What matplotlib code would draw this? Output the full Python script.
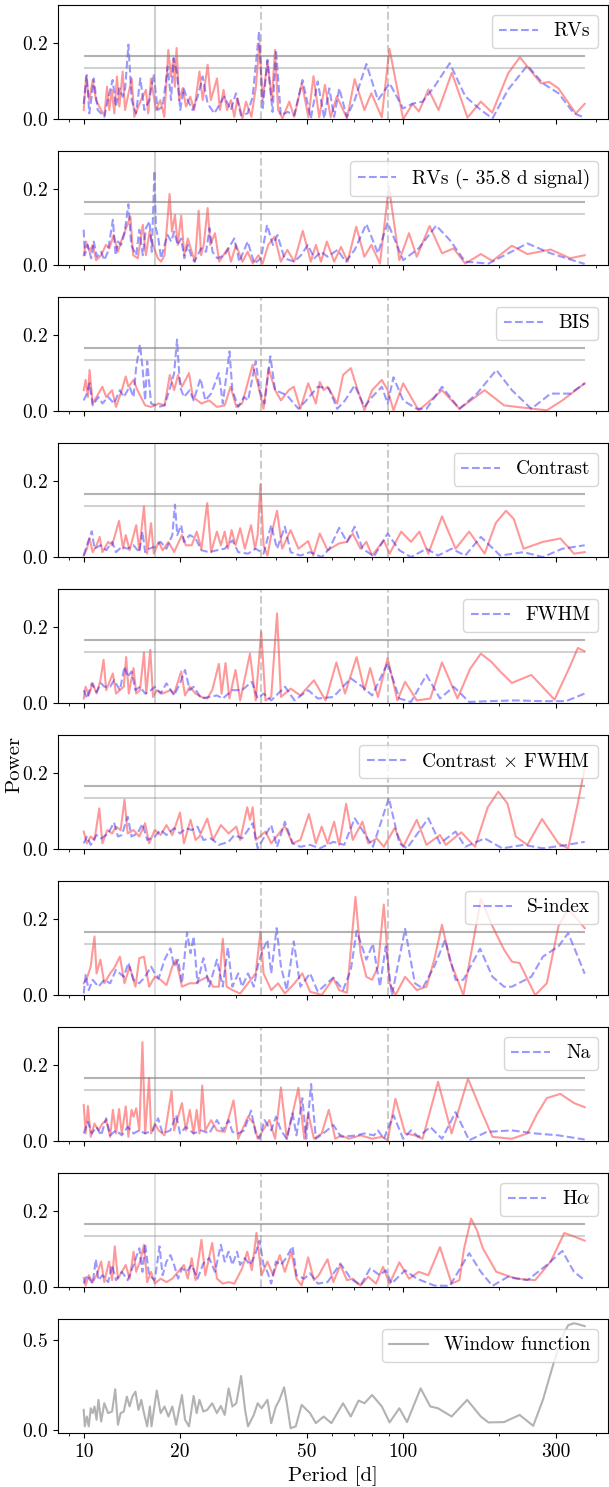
import matplotlib
matplotlib.use('Agg')
import matplotlib.pyplot as plt
from matplotlib.ticker import NullFormatter

plt.rcParams['font.family'] = 'serif'
plt.rcParams['font.serif'] = ['cmr10']
plt.rcParams['mathtext.fontset'] = 'cm'
plt.rcParams['axes.formatter.use_mathtext'] = True
plt.rcParams['font.size'] = 14

# ---------------- data (period [d], power) ----------------
rv_red = [(10.0,0.024),(10.17,0.112),(10.41,0.05),(10.67,0.103),(10.93,0.05),(11.33,0.024),(11.61,0.01),(11.83,0.085),(12.03,0.024),(12.24,0.077),(12.47,0.015),(12.71,0.112),(12.93,0.033),(13.24,0.125),(13.47,0.024),(14.13,0.107),(14.40,0.006),(15.11,0.05),(15.66,0.077),(15.92,0.015),(16.24,0.107),(16.83,0.024),(17.37,0.05),(17.88,0.006),(18.40,0.182),(18.76,0.112),(19.11,0.16),(19.29,0.085),(19.53,0.187),(19.90,0.05),(20.40,0.081),(20.90,0.033),(21.55,0.059),(22.18,0.024),(23.03,0.125),(23.58,0.05),(24.44,0.143),(25.0,0.05),(26.14,0.107),(26.7,0.024),(27.4,0.077),(28.1,0.024),(28.9,0.05),(29.6,0.006),(30.3,0.055),(31.4,0.002),(32.2,0.046),(33.5,0.006),(34.6,0.085),(35.5,0.20),(36.3,0.05),(37.6,0.152),(38.8,0.05),(39.7,0.182),(40.6,0.024),(41.9,0.002),(44.0,0.046),(45.6,0.006),(48.2,0.094),(50.5,0.005),(52.4,0.113),(54.6,0.005),(56.9,0.09),(59.3,0.005),(62.0,0.06),(66.7,0.002),(70.5,0.105),(75.6,0.024),(79.5,0.068),(85.7,0.005),(90.6,0.185),(100,0.0),(107,0.04),(112,0.02),(120,0.078),(129,0.024),(142,0.122),(159,0.004),(175,0.046),(190,0.017),(213,0.12),(232,0.163),(252,0.125),(270,0.094),(286,0.098),(306,0.081),(347,0.015),(370,0.04)]
rv_blue = [(10.0,0.04),(10.22,0.116),(10.41,0.015),(10.59,0.059),(10.75,0.107),(11.06,0.024),(11.61,0.006),(11.89,0.05),(12.32,0.103),(12.62,0.033),(12.93,0.081),(13.24,0.059),(13.47,0.077),(13.80,0.196),(14.13,0.05),(14.58,0.015),(15.04,0.107),(15.48,0.024),(16.05,0.05),(16.56,0.119),(17.04,0.024),(17.67,0.033),(18.32,0.138),(18.76,0.05),(19.12,0.16),(19.59,0.12),(20.06,0.024),(20.55,0.081),(21.15,0.05),(21.93,0.024),(22.73,0.059),(23.57,0.112),(24.43,0.041),(25.63,0.015),(27.54,0.059),(28.90,0.024),(29.96,0.068),(31.06,0.01),(32.58,0.015),(33.79,0.059),(35.4,0.231),(36.3,0.024),(37.6,0.156),(39.0,0.019),(40.0,0.182),(41.4,0.01),(43.5,0.019),(45.6,0.01),(48.4,0.103),(51.4,0.002),(54.0,0.099),(56.6,0.002),(58.7,0.081),(60.8,0.006),(63.1,0.081),(66.6,0.006),(70.5,0.05),(76.7,0.145),(83.4,0.05),(90.7,0.094),(100,0.028),(107.2,0.041),(115,0.046),(125.1,0.085),(139.9,0.147),(156.4,0.06),(175,0.024),(190.4,0.002),(212.8,0.077),(244.8,0.141),(273.8,0.094),(306.3,0.068),(342.4,0.015),(370,0.004)]

rvres_red = [(10.0,0.026),(10.17,0.062),(10.43,0.035),(10.67,0.053),(10.94,0.013),(11.34,0.026),(11.73,0.053),(12.03,0.044),(12.41,0.079),(12.80,0.035),(13.09,0.062),(13.57,0.097),(14.0,0.128),(14.28,0.026),(14.77,0.018),(15.31,0.106),(15.66,0.026),(16.07,0.088),(16.47,0.053),(17.07,0.018),(17.46,0.009),(17.91,0.026),(18.57,0.187),(18.89,0.088),(19.3,0.132),(19.69,0.053),(20.19,0.13),(20.65,0.026),(21.18,0.07),(21.78,0.035),(22.3,0.009),(22.9,0.143),(23.3,0.026),(23.75,0.053),(24.43,0.15),(24.9,0.053),(25.76,0.084),(26.56,0.009),(28.26,0.044),(28.9,0.009),(29.96,0.053),(31.4,0.009),(32.6,0.035),(33.8,0.004),(35.24,0.026),(36.3,0.004),(37.8,0.053),(39.6,0.075),(41.4,0.009),(43.4,0.04),(45.6,0.009),(48.5,0.09),(51.4,0.009),(53.3,0.053),(55.3,0.009),(57.7,0.062),(60.8,0.009),(63.9,0.048),(67.0,0.009),(71.3,0.101),(75.6,0.022),(79.5,0.053),(84.6,0.004),(90.2,0.207),(97.3,0.013),(104.3,0.084),(110.3,0.022),(121,0.103),(132.3,0.031),(143.9,0.044),(156.4,0.004),(175,0.029),(190.3,0.011),(218.9,0.051),(244.8,0.029),(289.5,0.041),(333,0.018),(370,0.026)]
rvres_blue = [(10.0,0.093),(10.08,0.026),(10.29,0.053),(10.55,0.018),(10.75,0.062),(11.0,0.022),(11.34,0.035),(11.6,0.013),(11.9,0.035),(12.34,0.119),(12.58,0.026),(12.80,0.062),(13.09,0.053),(13.42,0.084),(13.8,0.16),(14.08,0.053),(14.6,0.026),(14.93,0.093),(15.31,0.026),(15.66,0.097),(16.07,0.115),(16.34,0.035),(16.65,0.248),(16.83,0.097),(17.12,0.07),(17.46,0.018),(17.91,0.053),(18.31,0.079),(18.78,0.062),(19.19,0.088),(19.69,0.053),(20.19,0.07),(20.65,0.018),(21.18,0.053),(21.66,0.026),(22.2,0.009),(23.3,0.044),(24.15,0.035),(24.78,0.097),(25.3,0.035),(26.2,0.018),(27.6,0.026),(29.6,0.07),(30.7,0.009),(32.6,0.062),(34.2,0.004),(35.9,0.018),(37.5,0.106),(39.1,0.053),(40.4,0.079),(42.5,0.018),(45.6,0.009),(47.9,0.026),(50.3,0.053),(52.7,0.018),(55.3,0.035),(58.0,0.022),(62.3,0.04),(66.1,0.009),(70.5,0.04),(76.7,0.108),(83.4,0.031),(89.4,0.112),(100,0.013),(111.8,0.044),(126.9,0.104),(139.9,0.066),(156.4,0.009),(185,0.004),(244.8,0.057),(289.5,0.031),(370,0.003)]

bis_red = [(10.0,0.055),(10.14,0.082),(10.31,0.037),(10.43,0.108),(10.67,0.02),(11.12,0.046),(11.44,0.064),(11.76,0.037),(12.27,0.055),(12.62,0.011),(13.16,0.055),(13.54,0.091),(13.8,0.064),(14.32,0.082),(14.73,0.055),(15.57,0.015),(16.25,0.011),(17.17,0.02),(17.91,0.015),(18.6,0.095),(19.19,0.055),(19.74,0.095),(20.3,0.064),(21.36,0.1),(21.96,0.037),(23.36,0.02),(24.71,0.028),(26.12,0.011),(27.63,0.015),(28.82,0.064),(30.04,0.011),(31.33,0.02),(33.8,0.122),(35.04,0.073),(36.55,0.006),(37.9,0.113),(39.73,0.055),(41.44,0.028),(43.83,0.055),(45.45,0.064),(47.66,0.006),(50.42,0.073),(53.3,0.02),(54.82,0.077),(56.38,0.055),(57.98,0.064),(62.17,0.02),(64.84,0.095),(68.56,0.113),(71.5,0.064),(75.63,0.002),(79.95,0.055),(85.75,0.082),(89.42,0.055),(93.26,0.002),(100,0.073),(111.8,0.002),(121.6,0.028),(132.3,0.055),(150,0.006),(179.9,0.055),(207,0.015),(238.1,0.009),(281.6,0.002),(314.9,0.028),(370,0.073)]
bis_blue = [(10.0,0.028),(10.23,0.046),(10.43,0.073),(10.67,0.015),(11.12,0.037),(11.44,0.02),(11.93,0.037),(12.44,0.02),(12.98,0.055),(13.35,0.037),(13.92,0.064),(14.32,0.037),(14.6,0.117),(15.0,0.175),(15.27,0.117),(15.57,0.028),(15.8,0.131),(16.25,0.02),(17.17,0.011),(17.91,0.015),(18.68,0.064),(19.19,0.1),(19.6,0.188),(20.02,0.064),(20.59,0.037),(21.48,0.055),(22.08,0.028),(23.2,0.086),(24.02,0.028),(25.05,0.046),(26.49,0.1),(27.25,0.02),(28.6,0.157),(29.2,0.055),(30.46,0.011),(31.77,0.037),(32.68,0.028),(34.55,0.131),(35.54,0.055),(36.8,0.02),(38.4,0.144),(39.73,0.055),(43.22,0.042),(47.0,0.006),(49.71,0.028),(54.05,0.064),(58.5,0.06),(62.17,0.006),(65.76,0.028),(70.51,0.068),(75.63,0.011),(79.95,0.037),(85.75,0.064),(89.42,0.02),(93.26,0.089),(100,0.028),(110.3,0.006),(118.3,0.006),(132.3,0.064),(150,0.006),(170.2,0.046),(195.7,0.108),(218.9,0.055),(251.8,0.006),(289.5,0.046),(333,0.046),(370,0.073)]

con_red = [(10.0,0.004),(10.23,0.022),(10.43,0.049),(10.67,0.013),(10.97,0.031),(11.22,0.053),(11.44,0.013),(11.93,0.04),(12.27,0.031),(12.9,0.095),(13.28,0.022),(13.54,0.058),(13.92,0.018),(14.6,0.084),(14.93,0.018),(15.44,0.133),(15.8,0.009),(16.25,0.089),(16.57,0.009),(17.17,0.04),(17.66,0.018),(18.42,0.04),(19.19,0.013),(20.3,0.058),(20.88,0.031),(21.78,0.031),(22.58,0.067),(23.36,0.022),(24.36,0.142),(25.05,0.013),(26.12,0.067),(26.87,0.031),(27.63,0.067),(28.26,0.022),(29.04,0.071),(29.87,0.031),(30.89,0.076),(31.95,0.022),(33.4,0.084),(34.36,0.022),(35.04,0.058),(35.74,0.191),(36.55,0.031),(37.59,0.004),(38.63,0.058),(40.29,0.122),(41.8,0.022),(44.43,0.071),(47.0,0.022),(50.42,0.042),(52.3,0.004),(54.82,0.062),(57.98,0.018),(63.05,0.036),(66.68,0.04),(69.53,0.062),(73.54,0.022),(76.7,0.04),(79.95,0.004),(86.96,0.044),(90.68,0.009),(98.6,0.067),(105.8,0.04),(112.4,0.067),(119.9,0.009),(132.3,0.107),(145.9,0.022),(160.9,0.067),(179.9,0.009),(195,0.09),(209.9,0.122),(222,0.1),(238.1,0.022),(273.8,0.04),(310.5,0.049),(342.4,0.009),(370,0.013)]
con_blue = [(10.0,0.004),(10.23,0.031),(10.6,0.068),(10.81,0.022),(11.28,0.031),(11.76,0.018),(12.27,0.04),(12.62,0.013),(13.16,0.027),(13.73,0.022),(14.32,0.031),(14.93,0.013),(15.27,0.067),(15.57,0.013),(16.02,0.022),(16.69,0.027),(17.41,0.04),(18.16,0.022),(18.94,0.058),(19.3,0.138),(19.63,0.058),(20.19,0.084),(20.59,0.04),(21.48,0.058),(22.39,0.049),(23.36,0.018),(24.71,0.013),(26.12,0.018),(27.63,0.022),(29.2,0.044),(30.46,0.013),(32.68,0.009),(34.55,0.022),(36.55,0.009),(38.63,0.084),(40.29,0.022),(42.62,0.08),(44.43,0.013),(47.66,0.004),(51.1,0.013),(55.59,0.0),(58.77,0.022),(63.05,0.077),(66.68,0.04),(70.51,0.08),(74.58,0.022),(81.08,0.002),(89.42,0.062),(97.27,0.018),(105.8,0.0),(118.3,0.022),(128.6,0.004),(141.8,0.022),(156.4,0.004),(175,0.053),(201.3,0.004),(238.1,0.013),(273.8,0.0),(314.9,0.022),(370,0.031)]

fwhm_red = [(10.0,0.012),(10.14,0.043),(10.37,0.02),(10.67,0.052),(10.97,0.025),(11.28,0.06),(11.54,0.114),(11.76,0.034),(12.1,0.06),(12.34,0.078),(12.62,0.025),(12.98,0.034),(13.35,0.043),(13.58,0.121),(13.84,0.025),(14.32,0.092),(14.6,0.025),(15.0,0.034),(15.44,0.133),(15.7,0.025),(16.16,0.14),(16.48,0.016),(16.93,0.034),(17.66,0.025),(18.68,0.034),(19.19,0.025),(20.19,0.083),(20.76,0.02),(21.48,0.043),(22.39,0.025),(23.36,0.016),(24.36,0.012),(25.25,0.034),(26.49,0.103),(27.02,0.025),(27.79,0.105),(28.58,0.012),(29.87,0.087),(30.89,0.007),(33.14,0.13),(34.55,0.007),(35.94,0.187),(37.07,0.007),(38.63,0.016),(40.29,0.236),(41.44,0.016),(44.43,0.038),(47.66,0.02),(52.56,0.06),(57.17,0.007),(61.8,0.107),(65.76,0.025),(71.5,0.121),(75.63,0.034),(78.83,0.092),(83.38,0.016),(89.42,0.118),(95.9,0.007),(101.4,0.056),(110.3,0.007),(121.6,0.012),(132.3,0.107),(147.9,0.012),(162,0.09),(175,0.13),(188,0.11),(201.3,0.083),(218.9,0.053),(251.8,0.074),(297.7,0.009),(330,0.09),(352.2,0.145),(370,0.136)]
fwhm_blue = [(10.0,0.034),(10.23,0.012),(10.6,0.052),(10.97,0.029),(11.34,0.052),(11.6,0.043),(12.1,0.043),(12.44,0.06),(12.98,0.034),(13.42,0.096),(13.73,0.069),(14.12,0.083),(14.52,0.034),(15.0,0.043),(15.57,0.025),(16.25,0.034),(16.69,0.043),(17.41,0.025),(18.16,0.052),(19.19,0.02),(20.02,0.052),(20.76,0.087),(21.48,0.034),(22.08,0.043),(23.36,0.012),(24.71,0.016),(26.12,0.02),(27.25,0.012),(29.2,0.034),(31.33,0.034),(33.59,0.056),(35.04,0.012),(36.55,0.025),(38.63,0.007),(42.7,0.043),(45.7,0.007),(50.42,0.034),(54.05,0.012),(60.45,0.016),(68.56,0.065),(74.58,0.043),(79.95,0.02),(89.42,0.105),(97.27,0.012),(105.8,0.003),(118.3,0.074),(130.4,0.012),(143.9,0.043),(160.9,0.003),(185,0.005),(225.1,0.007),(273.8,0.005),(323.5,0.005),(370,0.025)]

cxf_red = [(10.0,0.046),(10.23,0.015),(10.52,0.033),(10.81,0.024),(11.19,0.107),(11.44,0.015),(11.86,0.05),(12.27,0.041),(12.62,0.059),(13.05,0.05),(13.42,0.13),(13.73,0.041),(14.32,0.05),(14.93,0.033),(15.57,0.068),(16.02,0.015),(16.69,0.05),(17.41,0.037),(18.16,0.063),(18.94,0.037),(20.02,0.096),(20.59,0.015),(21.6,0.077),(22.39,0.024),(23.03,0.033),(24.36,0.08),(25.39,0.024),(26.87,0.063),(28.42,0.041),(30.04,0.059),(30.89,0.024),(32.5,0.11),(33.14,0.077),(33.8,0.11),(34.55,0.024),(37.07,0.046),(38.63,0.015),(42.62,0.061),(45.06,0.015),(47.66,0.024),(50.7,0.092),(53.3,0.015),(55.59,0.059),(57.98,0.015),(60.8,0.072),(63.05,0.011),(66.3,0.119),(69.53,0.024),(74.58,0.072),(77.74,0.015),(82.7,0.028),(86.96,0.006),(94.0,0.055),(100,0.006),(110.3,0.077),(118.3,0.011),(130.4,0.037),(136,0.011),(152.1,0.044),(167.8,0.006),(184,0.11),(198.5,0.151),(212,0.12),(225.1,0.033),(244.8,0.011),(272,0.079),(306.2,0.015),(328.4,0.002),(352.2,0.121),(370,0.213)]
cxf_blue = [(10.0,0.015),(10.23,0.033),(10.52,0.011),(10.97,0.037),(11.34,0.028),(11.93,0.041),(12.44,0.07),(12.8,0.033),(13.16,0.037),(13.73,0.085),(14.12,0.033),(14.73,0.041),(15.27,0.066),(15.8,0.024),(16.69,0.033),(17.41,0.05),(18.16,0.037),(19.19,0.055),(20.02,0.041),(20.88,0.055),(21.78,0.05),(22.71,0.059),(23.69,0.024),(25.05,0.028),(26.49,0.011),(28.42,0.019),(29.62,0.037),(31.33,0.028),(33.8,0.068),(35.04,0.002),(38.63,0.063),(40.29,0.006),(42.62,0.072),(45.06,0.015),(47.66,0.006),(51.1,0.011),(54.82,0.002),(60.45,0.019),(65.4,0.011),(70.51,0.081),(75.63,0.041),(80.4,0.006),(90.2,0.134),(97.27,0.015),(102.8,0.002),(119.9,0.081),(130.4,0.015),(145.9,0.046),(156.4,0.006),(179.9,0.028),(204.2,0.002),(238.1,0.011),(273.8,0.002),(314.9,0.009),(370,0.019)]

sidx_red = [(10.0,0.031),(10.23,0.044),(10.52,0.075),(10.67,0.119),(10.81,0.154),(10.97,0.057),(11.28,0.093),(11.6,0.031),(12.1,0.057),(12.44,0.07),(12.98,0.101),(13.42,0.031),(13.92,0.075),(14.52,0.022),(14.93,0.097),(15.44,0.101),(16.02,0.022),(16.69,0.048),(17.41,0.04),(18.16,0.026),(18.94,0.075),(19.47,0.093),(20.3,0.022),(21.48,0.031),(22.39,0.031),(23.36,0.04),(24.36,0.048),(25.39,0.022),(26.49,0.022),(27.25,0.148),(28.02,0.022),(29.2,0.013),(30.89,0.004),(32.68,0.031),(34.55,0.057),(35.74,0.167),(36.55,0.057),(38.63,0.013),(40.6,0.031),(42.62,0.004),(45.7,0.031),(48.34,0.057),(51.1,0.009),(55.59,0.0),(60.45,0.044),(63.05,0.013),(66.68,0.006),(70.9,0.258),(73.54,0.11),(76.7,0.048),(79.95,0.04),(83.38,0.075),(86.96,0.238),(90.68,0.031),(94.58,0.0),(101.4,0.048),(110.3,0.013),(118.3,0.022),(125.1,0.093),(132.3,0.185),(139.9,0.093),(154.3,0.0),(163.2,0.11),(175,0.253),(190.3,0.181),(207,0.119),(218.9,0.088),(231.5,0.084),(258.9,0.0),(281.6,0.031),(306.2,0.181),(328.4,0.226),(352.2,0.198),(370,0.176)]
sidx_blue = [(10.0,0.004),(10.14,0.053),(10.37,0.013),(10.67,0.04),(11.12,0.022),(11.6,0.04),(12.1,0.031),(12.62,0.066),(13.35,0.048),(13.8,0.085),(14.32,0.04),(14.93,0.031),(15.57,0.048),(16.25,0.075),(16.69,0.057),(17.17,0.044),(17.91,0.093),(18.68,0.123),(19.19,0.075),(19.74,0.093),(20.3,0.031),(21.06,0.165),(21.6,0.11),(22.08,0.154),(22.71,0.031),(23.69,0.097),(24.71,0.022),(26.12,0.093),(27.25,0.022),(28.26,0.125),(29.2,0.022),(30.46,0.057),(31.33,0.022),(32.68,0.057),(34.07,0.022),(35.04,0.075),(36.04,0.11),(37.59,0.145),(38.63,0.057),(40.17,0.176),(41.44,0.075),(43.22,0.013),(45.45,0.141),(47.66,0.022),(51.1,0.057),(54.05,0.009),(60.45,0.046),(64.84,0.013),(68.56,0.066),(71.5,0.169),(76.7,0.093),(80.4,0.135),(84.56,0.022),(88.19,0.128),(92.2,0.0),(101.4,0.174),(108.8,0.031),(115,0.018),(125.1,0.075),(135.3,0.145),(145.9,0.04),(154.3,0.04),(174.1,0.122),(190.3,0.048),(207,0.022),(218.9,0.022),(251.8,0.048),(273.8,0.101),(306.2,0.128),(328.4,0.163),(352.2,0.101),(370,0.056)]

na_red = [(10.0,0.095),(10.14,0.02),(10.31,0.092),(10.52,0.011),(10.81,0.046),(11.12,0.028),(11.44,0.046),(11.76,0.055),(12.1,0.011),(12.34,0.082),(12.62,0.02),(12.9,0.084),(13.16,0.02),(13.54,0.091),(13.8,0.011),(14.12,0.082),(14.32,0.064),(14.6,0.086),(14.93,0.028),(15.27,0.26),(15.57,0.02),(16.02,0.166),(16.25,0.02),(16.69,0.046),(17.17,0.028),(17.91,0.015),(18.84,0.131),(19.19,0.028),(20.3,0.1),(20.88,0.028),(21.48,0.082),(22.08,0.02),(22.58,0.082),(23.03,0.02),(23.5,0.146),(24.02,0.028),(25.05,0.055),(26.12,0.028),(27.63,0.024),(29.45,0.107),(30.46,0.006),(32.68,0.064),(34.07,0.046),(35.04,0.006),(38.12,0.055),(39.73,0.006),(41.44,0.141),(43.22,0.006),(47.0,0.14),(49.02,0.006),(50.42,0.073),(52.56,0.006),(55.59,0.02),(58.5,0.082),(61.3,0.006),(63.94,0.015),(67.6,0.006),(73.54,0.015),(79.95,0.006),(85.75,0.011),(89.42,0.002),(94.58,0.111),(101.4,0.02),(108.8,0.015),(115,0.006),(128.6,0.156),(141.8,0.02),(159.6,0.164),(175,0.082),(190.3,0.011),(218.9,0.006),(244.8,0.02),(262,0.07),(281.6,0.113),(310.5,0.124),(342.4,0.1),(370,0.089)]
na_blue = [(10.0,0.02),(10.31,0.051),(10.6,0.02),(10.97,0.037),(11.34,0.015),(11.76,0.06),(12.1,0.015),(12.62,0.028),(13.16,0.015),(13.73,0.037),(14.32,0.02),(14.93,0.028),(15.57,0.02),(16.48,0.028),(17.09,0.06),(17.66,0.02),(18.68,0.028),(19.47,0.068),(20.02,0.02),(20.88,0.037),(22.08,0.02),(23.36,0.028),(24.71,0.02),(26.12,0.055),(27.25,0.028),(28.42,0.055),(29.2,0.024),(30.46,0.02),(31.77,0.028),(33.4,0.08),(34.55,0.02),(35.54,0.006),(36.8,0.055),(38.63,0.028),(40.0,0.064),(41.44,0.028),(43.22,0.006),(45.06,0.073),(46.34,0.015),(48.34,0.113),(49.71,0.006),(51.5,0.15),(53.3,0.006),(57.0,0.024),(60.45,0.042),(63.94,0.011),(71.5,0.015),(75.63,0.02),(81.08,0.015),(83.38,0.028),(86.96,0.006),(93.26,0.068),(100,0.006),(105.8,0.028),(111.8,0.011),(121.6,0.037),(132.3,0.006),(145.9,0.076),(160.9,0.002),(182.5,0.024),(218.9,0.028),(258.9,0.02),(306.2,0.015),(370,0.004)]

ha_red = [(10.0,0.024),(10.14,0.004),(10.37,0.031),(10.67,0.013),(10.97,0.031),(11.34,0.067),(11.6,0.013),(12.0,0.067),(12.27,0.018),(12.51,0.107),(12.8,0.022),(13.16,0.04),(13.54,0.058),(13.92,0.022),(14.32,0.093),(14.6,0.04),(15.0,0.067),(15.44,0.111),(15.8,0.013),(16.25,0.04),(16.69,0.009),(17.41,0.022),(18.16,0.013),(18.94,0.022),(19.74,0.04),(20.59,0.058),(21.18,0.022),(21.78,0.076),(22.39,0.018),(23.36,0.124),(24.02,0.031),(25.25,0.116),(26.12,0.022),(27.25,0.009),(28.42,0.013),(29.62,0.009),(31.33,0.049),(32.5,0.093),(33.59,0.044),(34.74,0.142),(36.04,0.031),(37.59,0.067),(39.18,0.031),(41.1,0.084),(42.62,0.04),(44.7,0.093),(46.34,0.022),(48.1,0.004),(50.42,0.078),(52.56,0.018),(54.4,0.031),(57.98,0.073),(60.45,0.013),(63.6,0.058),(66.68,0.018),(69.53,0.022),(73.54,0.004),(77.74,0.027),(82.22,0.009),(86.5,0.053),(90.68,0.009),(97.27,0.065),(104.3,0.022),(111.8,0.04),(119.9,0.031),(130.4,0.105),(141.8,0.009),(150,0.018),(155,0.1),(163.2,0.18),(170,0.15),(177.5,0.102),(195.7,0.04),(225.1,0.022),(258.9,0.018),(289.5,0.067),(319.3,0.142),(342.4,0.133),(370,0.122)]
ha_blue = [(10.0,0.009),(10.23,0.031),(10.67,0.009),(10.91,0.073),(11.12,0.018),(11.44,0.031),(11.93,0.013),(12.27,0.058),(12.62,0.018),(13.16,0.04),(13.73,0.018),(14.32,0.058),(14.93,0.102),(15.27,0.04),(15.57,0.114),(16.02,0.031),(16.69,0.018),(17.27,0.107),(17.66,0.031),(18.16,0.067),(18.68,0.084),(19.19,0.058),(19.74,0.022),(20.3,0.049),(20.99,0.04),(21.78,0.058),(22.71,0.022),(23.69,0.062),(24.71,0.076),(25.76,0.04),(26.87,0.111),(27.63,0.067),(28.42,0.093),(29.2,0.058),(30.2,0.093),(30.89,0.058),(31.95,0.076),(33.14,0.058),(34.36,0.084),(35.54,0.122),(36.55,0.058),(37.59,0.04),(38.63,0.009),(39.95,0.067),(41.44,0.058),(42.99,0.076),(45.06,0.107),(46.34,0.031),(49.02,0.022),(51.1,0.036),(54.05,0.009),(57.98,0.013),(63.6,0.062),(68.56,0.022),(73.54,0.004),(78.83,0.049),(84.56,0.031),(88.19,0.044),(91.96,0.009),(101.4,0.044),(110.3,0.022),(125.1,0.004),(139.9,0.003),(160.9,0.089),(175,0.04),(190.3,0.003),(212.9,0.027),(244.8,0.018),(281.6,0.058),(314.9,0.095),(342.4,0.04),(370,0.018)]

window = [(10.0,0.111),(10.08,0.019),(10.23,0.074),(10.37,0.019),(10.52,0.12),(10.67,0.093),(10.81,0.13),(10.97,0.056),(11.12,0.167),(11.34,0.046),(11.6,0.148),(11.93,0.093),(12.27,0.102),(12.55,0.226),(12.8,0.028),(13.05,0.093),(13.35,0.102),(13.65,0.185),(13.92,0.13),(14.2,0.185),(14.52,0.213),(14.84,0.111),(15.14,0.167),(15.44,0.093),(15.8,0.019),(16.11,0.13),(16.3,0.019),(16.93,0.219),(17.41,0.093),(17.91,0.13),(18.42,0.074),(18.94,0.13),(19.47,0.028),(20.3,0.194),(20.76,0.056),(21.36,0.019),(22.08,0.189),(22.58,0.093),(23.03,0.167),(23.69,0.102),(24.36,0.111),(25.25,0.148),(26.12,0.093),(26.87,0.133),(27.63,0.083),(28.42,0.231),(29.2,0.13),(30.04,0.148),(31.1,0.3),(32.0,0.111),(32.68,0.019),(34.07,0.083),(35.04,0.148),(36.04,0.12),(37.59,0.167),(38.63,0.037),(39.95,0.13),(41.0,0.167),(42.4,0.237),(43.22,0.148),(44.43,0.009),(46.1,0.019),(48.1,0.139),(51.1,0.093),(53.3,0.037),(56.38,0.074),(59.61,0.037),(64.84,0.148),(68.56,0.074),(72.51,0.163),(75.63,0.148),(79.95,0.194),(85.75,0.13),(90.68,0.041),(97.27,0.12),(102.8,0.043),(113.4,0.231),(121.6,0.13),(128.6,0.12),(141.8,0.074),(158.6,0.167),(175,0.074),(185,0.041),(207,0.043),(231.5,0.083),(255.3,0.022),(273.8,0.167),(297.7,0.389),(315,0.52),(328.4,0.583),(342,0.594),(352.2,0.589),(370,0.578)]

panel_labels = ['RVs', 'RVs (- 35.8 d signal)', 'BIS', 'Contrast', 'FWHM',
                r'Contrast $\times$ FWHM', 'S-index', 'Na', r'H$\alpha$']
red_series = [rv_red, rvres_red, bis_red, con_red, fwhm_red, cxf_red, sidx_red, na_red, ha_red]
blue_series = [rv_blue, rvres_blue, bis_blue, con_blue, fwhm_blue, cxf_blue, sidx_blue, na_blue, ha_blue]

fap_levels = [0.166, 0.135]
rotation_period = 16.7
signal_periods = [35.8, 89.5]
period_range = [10.0, 370.0]
xtick_values = [10, 20, 50, 100, 300]

# ---------------- figure ----------------
fig, axes = plt.subplots(10, 1, figsize=(6.09, 14.87), dpi=100, sharex=True)
fig.subplots_adjust(left=0.095, right=0.998, top=0.9966, bottom=0.0363, hspace=0.28)

for i in range(9):
    ax = axes[i]
    rp, rv = zip(*red_series[i])
    bp, bv = zip(*blue_series[i])
    ax.plot(rp, rv, color='red', alpha=0.4, lw=1.5)
    ax.plot(bp, bv, color='blue', alpha=0.4, lw=1.5, ls='--', label=panel_labels[i])
    ax.hlines(fap_levels[0], period_range[0], period_range[1], color='gray', alpha=0.6, lw=1.5)
    ax.hlines(fap_levels[1], period_range[0], period_range[1], color='gray', alpha=0.35, lw=1.5)
    ax.axvline(rotation_period, color='gray', alpha=0.45 if i in (0, 1, 2, 3, 4, 7) else 0.3, lw=1.2)
    for sp in signal_periods:
        ax.axvline(sp, color='gray', alpha=0.4, lw=1.5, ls='--')
    ax.set_ylim(0, 0.3)
    ax.set_yticks([0.0, 0.2])
    ax.legend(loc='upper right', fontsize=14, handlelength=2.0)

ax = axes[9]
wp, wv = zip(*window)
ax.plot(wp, wv, color='gray', alpha=0.6, lw=1.5, label='Window function')
ax.set_ylim(-0.018, 0.618)
ax.set_yticks([0.0, 0.5])
ax.legend(loc='upper right', fontsize=14)

ax.set_xscale('log')
ax.set_xlim(8.3, 437)
ax.set_xticks(xtick_values)
ax.set_xticklabels([str(v) for v in xtick_values])
ax.xaxis.set_minor_formatter(NullFormatter())
ax.set_xlabel('Period [d]', fontsize=15)

for a in axes:
    a.tick_params(labelsize=14)

fig.text(0.023, 0.486, 'Power', rotation=90, ha='center', va='center', fontsize=15)

fig.savefig('out.png', dpi=100)
